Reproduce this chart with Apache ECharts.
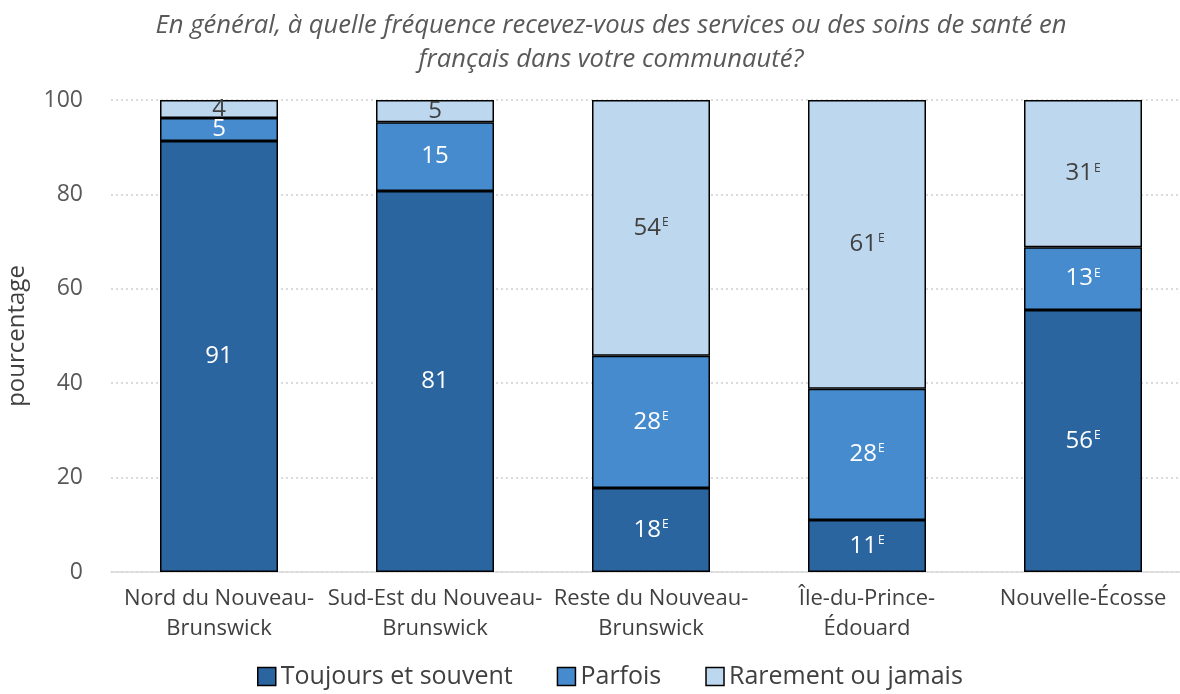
<!DOCTYPE html>
<html>
<head>
  <meta charset="utf-8">
  <title>ECharts</title>
  <script src="https://cdn.jsdelivr.net/npm/echarts@6/dist/echarts.min.js"></script>
</head>
<body style="margin:0">
<div id="main" style="width: 1180px;height:694px;"></div>
<script type="text/javascript">
  // données
  var categories = ['Nord du Nouveau-\nBrunswick', 'Sud-Est du Nouveau-\nBrunswick', 'Reste du Nouveau-\nBrunswick', 'Île-du-Prince-\nÉdouard', 'Nouvelle-Écosse'];
  var seriesNames = ['Toujours et souvent', 'Parfois', 'Rarement ou jamais'];
  var toujours = [91.3, 80.7, 17.8, 11.0, 55.5];
  var parfois = [4.9, 14.6, 28.0, 27.8, 13.3];
  var rarement = [3.8, 4.7, 54.2, 61.2, 31.2];
  // E = à utiliser avec prudence
  var flagToujours = [false, false, true, true, true];
  var flagParfois = [false, false, true, true, true];
  var flagRarement = [false, false, true, true, true];
  var yTicks = [0, 20, 40, 60, 80, 100];

  var colors = ['#2A65A0', '#468BCD', '#BDD7EE'];
  var labelColors = ['#FFFFFF', '#FFFFFF', '#404040'];

  var chartDom = document.getElementById('main');
  var myChart = echarts.init(chartDom);
  var font = 'Open Sans';

  function makeSeries(idx, values, flags) {
    return {
      name: seriesNames[idx],
      type: 'bar',
      stack: 'total',
      barWidth: 118,
      data: values,
      itemStyle: { color: colors[idx], borderColor: '#000', borderWidth: 1.5 },
      label: {
        show: true,
        position: 'inside',
        formatter: function (p) {
          var v = Math.round(p.value);
          return flags[p.dataIndex] ? '{v|' + v + '}{e|E}' : '{v|' + v + '}';
        },
        rich: {
          v: { fontSize: 24, color: labelColors[idx], fontFamily: font },
          e: { fontSize: 12, color: labelColors[idx], fontFamily: font, padding: [0, 0, 11, 1] }
        }
      }
    };
  }

  var option = {
    animation: false,
    textStyle: { fontFamily: font },
    title: {
      text: 'En général, à quelle fréquence recevez-vous des services ou des soins de santé en\nfrançais dans votre communauté?',
      left: 606,
      textAlign: 'center',
      top: 4,
      textStyle: { fontSize: 25.6, fontStyle: 'italic', fontWeight: 'normal', color: '#595959', lineHeight: 34, fontFamily: font }
    },
    legend: {
      bottom: 0,
      left: 252,
      itemWidth: 18,
      itemHeight: 18,
      itemGap: 44,
      textStyle: { fontSize: 25, color: '#404040', fontFamily: font },
      data: seriesNames.map(function (n, i) {
        return { name: n, icon: 'rect', itemStyle: { color: colors[i], borderColor: '#000', borderWidth: 1.5 } };
      })
    },
    grid: { left: 111, width: 1080, top: 100, bottom: 122, outerBoundsMode: 'none' },
    xAxis: {
      type: 'category',
      data: categories,
      axisTick: { show: false },
      axisLine: { lineStyle: { color: '#D9D9D9', width: 1.5 } },
      axisLabel: { fontSize: 22, color: '#404040', lineHeight: 30, margin: 12, interval: 0, fontFamily: font }
    },
    yAxis: {
      type: 'value',
      min: yTicks[0],
      max: yTicks[yTicks.length - 1],
      interval: 20,
      name: 'pourcentage',
      nameLocation: 'middle',
      nameGap: 82,
      nameTextStyle: { fontSize: 24, color: '#404040', fontFamily: font },
      axisLabel: { fontSize: 23, color: '#595959', margin: 28, fontFamily: font },
      splitLine: { lineStyle: { color: '#D0D0D0', type: [2, 3], width: 1.5 } }
    },
    series: [
      makeSeries(0, toujours, flagToujours),
      makeSeries(1, parfois, flagParfois),
      makeSeries(2, rarement, flagRarement)
    ]
  };

  myChart.setOption(option);
</script>
</body>
</html>
